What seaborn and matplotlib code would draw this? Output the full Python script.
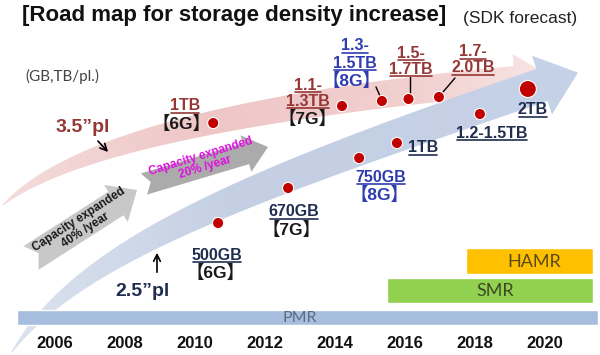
import numpy as np
import pandas as pd
import matplotlib
matplotlib.use("Agg")
import matplotlib.pyplot as plt
import seaborn as sns
from matplotlib.patches import Polygon
from matplotlib.colors import LinearSegmentedColormap

sns.set_theme(style="white")
plt.rcParams["font.family"] = ["Liberation Sans", "Noto Sans CJK SC"]

# ---------------- data ----------------
year_ticks = [2006, 2008, 2010, 2012, 2014, 2016, 2018, 2020]

# 3.5" platter roadmap (dots on the pink arrow)
p35_year = [2010.52, 2014.2, 2015.34, 2016.1, 2016.97]
p35_level = [123, 106, 101, 99, 97]          # schematic height, 0 = top
p35_cap = [["1TB"], ["1.1-", "1.3TB"], ["1.3-", "1.5TB"], ["1.5-", "1.7TB"], ["1.7-", "2.0TB"]]
p35_gen = ["【6G】", "【7G】", "【8G】", "", ""]

# 2.5" platter roadmap (dots on the blue arrow)
p25_year = [2010.66, 2012.66, 2014.69, 2015.77, 2018.14, 2019.51]
p25_level = [223, 188, 158, 143, 114, 89]
p25_cap = ["500GB", "670GB", "750GB", "1TB", "1.2-1.5TB", "2TB"]
p25_gen = ["【6G】", "【7G】", "【8G】", "", "", ""]

# recording technologies
tech = ["PMR", "SMR", "HAMR"]
tech_start = [2004.91, 2015.49, 2017.74]
tech_end = [2021.51, 2021.37, 2021.37]

# ---------------- layout ----------------
PPY = 35.0                 # pixels per year
X0 = 2006 - 55 / PPY       # year at left edge

DARKRED = "#953735"
BLUE = "#2F3CB0"
NAVY = "#1F2D50"

fig = plt.figure(figsize=(6, 3.55), dpi=100, facecolor="white")
ax_bg = fig.add_axes([0, 0, 1, 1])
ax_bg.set_xlim(0, 600)
ax_bg.set_ylim(355, 0)
ax_bg.axis("off")

ax = fig.add_axes([0, 0, 1, 1], zorder=2)
ax.set_xlim(X0, X0 + 600 / PPY)
ax.set_ylim(355, 0)
ax.axis("off")
ax.patch.set_alpha(0)


def bez(p, t):
    p = np.asarray(p, float)
    t = t[:, None]
    return (1 - t) ** 3 * p[0] + 3 * (1 - t) ** 2 * t * p[1] + 3 * (1 - t) * t ** 2 * p[2] + t ** 3 * p[3]


def curved_arrow(ctrl, w_end, head_w, head_len, k):
    t = np.linspace(0, 1, 300)
    c = bez(ctrl, t)
    d = np.gradient(c, axis=0)
    d /= np.linalg.norm(d, axis=1)[:, None]
    n = np.stack([d[:, 1], -d[:, 0]], axis=1)
    w = 1 + (w_end - 1) * (1 - (1 - t) ** k)
    upper = c + n * (w / 2)[:, None]
    lower = c - n * (w / 2)[:, None]
    end, de, ne = c[-1], d[-1], n[-1]
    head = [end + ne * head_w / 2, end + de * head_len, end - ne * head_w / 2]
    return np.vstack([upper, head, lower[::-1]])


def fill_gradient(pts, colors, z):
    patch = Polygon(pts, closed=True, facecolor="none", edgecolor="none", zorder=z)
    ax_bg.add_patch(patch)
    cmap = LinearSegmentedColormap.from_list("g", colors)
    grad = np.linspace(0, 1, 256)[None, :]
    im = ax_bg.imshow(grad, extent=[0, 600, 355, 0], cmap=cmap, aspect="auto",
                      zorder=z, interpolation="bilinear")
    im.set_clip_path(patch)


def block_arrow(tail, tip, w, hw, hl, notch):
    tail = np.array(tail, float)
    tip = np.array(tip, float)
    d = tip - tail
    L = np.hypot(*d)
    d /= L
    n = np.array([d[1], -d[0]])
    local = [(0, w / 2), (L - hl, w / 2), (L - hl, hw), (L, 0), (L - hl, -hw),
             (L - hl, -w / 2), (0, -w / 2), (notch, 0)]
    return np.array([tail + a * d + b * n for a, b in local])


# big curved arrows
pink = curved_arrow([(3, 205), (80, 135), (300, 100), (515, 80)], 28, 52, 36, 2.5)
fill_gradient(pink, [(0, "#F4DCDC"), (0.35, "#EFC6C6"), (0.7, "#F2D0D0"), (1, "#FBEEEE")], 1)
blue = curved_arrow([(12, 352), (80, 250), (250, 185), (542, 85)], 34, 62, 38, 2)
fill_gradient(blue, [(0, "#DCE3EF"), (0.4, "#C4CFE3"), (1, "#C6D2E8")], 2)

# gray growth arrows
ga1 = block_arrow((31, 258), (137, 190), 28, 22, 25, 9)
ax_bg.add_patch(Polygon(ga1, closed=True, facecolor="#C8C8C8", edgecolor="none", zorder=3))
ga2 = block_arrow((144, 184), (268, 147), 22, 19, 23, 7)
ax_bg.add_patch(Polygon(ga2, closed=True, facecolor="#ABABAB", edgecolor="none", zorder=3))
ax_bg.text(82, 225, "Capacity expanded\n40% /year", rotation=33, ha="center", va="center",
           fontsize=8.5, fontweight="bold", color="#1A1A1A", linespacing=1.0, zorder=4,
           rotation_mode="anchor")
ax_bg.text(203, 162, "Capacity expanded\n20% /year", rotation=17, ha="center", va="center",
           fontsize=8.5, fontweight="bold", color="#E010E0", linespacing=1.0, zorder=4,
           rotation_mode="anchor")

# technology bands
ax.barh(y=[317, 290, 261], width=np.subtract(tech_end, tech_start), left=tech_start,
        height=[15, 25, 26], color=["#A6BDDD", "#92D050", "#FFC000"], zorder=3)
tech_txt = [("#5B6B82", 11.5), ("#3B4A24", 13), ("#5A4A1A", 13)]
for name, s, e, yy, (c, fs) in zip(tech, tech_start, tech_end, [318, 291, 262], tech_txt):
    cx = 300 / PPY + X0 if name == "PMR" else (s + e) / 2 + 0.15
    ax.text(cx, yy, name, ha="center", va="center", color=c, fontsize=fs,
            family=["Lato", "Liberation Sans"], zorder=4)

# dots
df = pd.DataFrame({
    "year": p35_year + p25_year,
    "level": p35_level + p25_level,
    "big": [0] * len(p35_year) + [0] * (len(p25_year) - 1) + [1],
})
sns.scatterplot(data=df, x="year", y="level", size="big", sizes={0: 65, 1: 150},
                color="#C00000", edgecolor="white", linewidth=0.8, legend=False,
                ax=ax, zorder=6)

# year labels
for yr in year_ticks:
    ax.text(yr, 343, str(yr), ha="center", va="center", fontsize=12, fontweight="bold",
            color="#111111")

# titles
ax_bg.text(22, 16, "[Road map for storage density increase]", fontsize=16,
           fontweight="bold", ha="left", va="center", color="#111111")
ax_bg.text(463, 18, "(SDK forecast)", fontsize=12.5, ha="left", va="center", color="#222222")
ax_bg.text(62, 76, "(GB,TB/pl.)", fontsize=11, ha="center", va="center", color="#444444",
           family=["Lato", "Liberation Sans"])

ax_bg.text(83, 128, "3.5”pl", fontsize=14, fontweight="bold", ha="center", va="center",
           color=DARKRED)
ax_bg.text(143, 291, "2.5”pl", fontsize=14, fontweight="bold", ha="center", va="center",
           color=NAVY)
ax_bg.annotate("", xy=(110, 154), xytext=(96, 139),
               arrowprops=dict(arrowstyle="->", color="black", lw=1.2))
ax_bg.annotate("", xy=(157, 250), xytext=(157, 275),
               arrowprops=dict(arrowstyle="->", color="black", lw=1.2))

# capacity labels
underlined = []


def label(x, y, s, color, ul=True, fs=11.5):
    t = ax_bg.text(x, y, s, ha="center", va="center", fontsize=fs, fontweight="bold",
                   color=color, zorder=7)
    if ul:
        underlined.append(t)
    return t


# 3.5" labels
pos35 = [[(185, 106)], [(308, 85), (308, 101)], [(355, 46), (355, 63)],
         [(411, 53), (411, 69)], [(473, 52), (473, 68)]]
gen35 = [(181, 123), (308, 118), (352, 80), None, None]
col35 = [DARKRED, DARKRED, BLUE, DARKRED, DARKRED]
for cap, ps, g, gp, c in zip(p35_cap, pos35, p35_gen, gen35, col35):
    for line, p in zip(cap, ps):
        label(p[0], p[1], line, c)
    if g:
        label(gp[0], gp[1], g, c if c == BLUE else "#1A1A1A", ul=False, fs=12.5)

# 2.5" labels
pos25 = [(217, 255), (294, 212), (381, 177), (423, 148), (492, 133), (533, 110)]
gen25 = [(215, 272), (291, 229), (379, 194), None, None, None]
col25 = [NAVY, NAVY, BLUE, NAVY, NAVY, NAVY]
for cap, p, g, gp, c in zip(p25_cap, pos25, p25_gen, gen25, col25):
    label(p[0], p[1], cap, c)
    if g:
        label(gp[0], gp[1], g, c if c == BLUE else "#1A1A1A", ul=False, fs=12.5)

# leader lines
for (xa, ya), (xb, yb) in [((376, 87), (380, 96)), ((410, 77), (410, 94)), ((455, 78), (443, 92))]:
    ax_bg.plot([xa, xb], [ya, yb], color="black", lw=1.0, zorder=5)

# underlines
fig.canvas.draw()
renderer = fig.canvas.get_renderer()
inv = ax_bg.transData.inverted()
for t in underlined:
    bb = t.get_window_extent(renderer)
    (xa, ya), (xb, _) = inv.transform([(bb.x0 + 1, bb.y0 + 1), (bb.x1 - 1, bb.y0 + 1)])
    ax_bg.plot([xa, xb], [ya, ya], color=t.get_color(), lw=1.2, zorder=7)

fig.savefig("out.png", dpi=100, facecolor="white")
